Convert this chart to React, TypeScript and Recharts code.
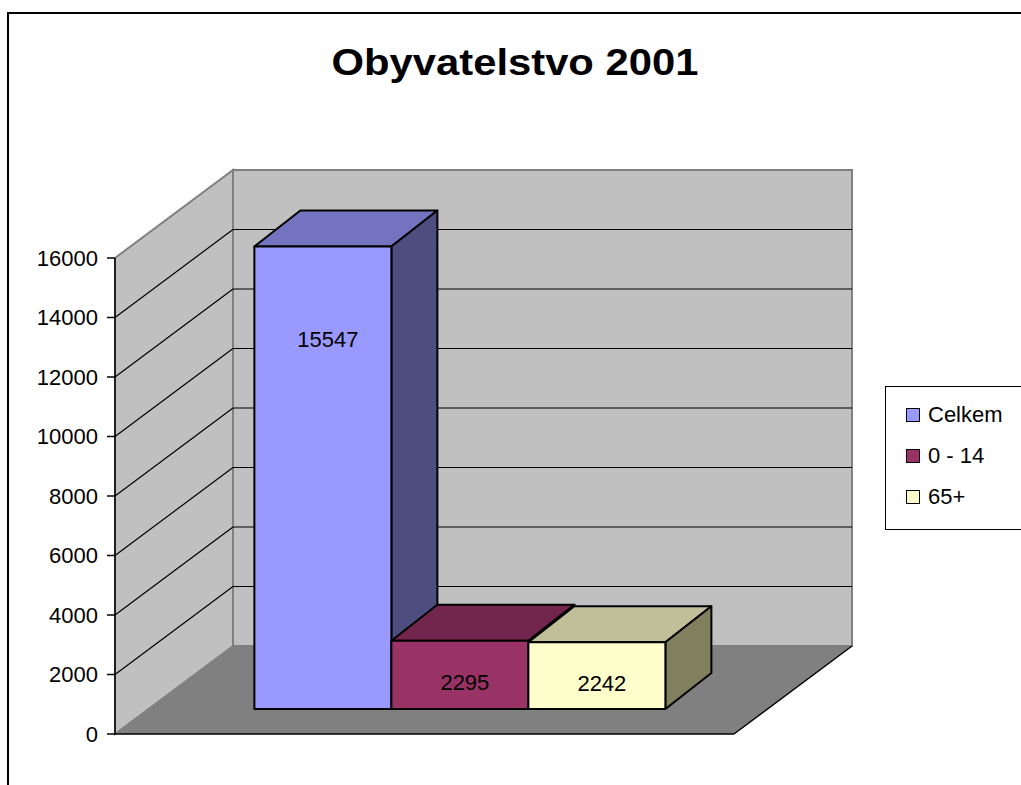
import { BarChart, Bar, XAxis, YAxis, CartesianGrid, LabelList } from "recharts"

const categories = ["2001"]
const seriesNames = ["Celkem", "0 - 14", "65+"]
const seriesValues = [[15547], [2295], [2242]]
const yTicks = [0, 2000, 4000, 6000, 8000, 10000, 12000, 14000, 16000]

const faceColors = ["#9999FF", "#993366", "#FFFFCC"]
const topColors = ["#7373BF", "#73264D", "#BFBF99"]
const sideColors = ["#4D4D80", "#4D1A33", "#80805F"]

const FONT = '"Liberation Sans", Arial, sans-serif'

// fake 3d: how deep the walls go, where the boxes sit and how deep they are
const WALL_DX = 118
const WALL_DY = 88
const BAR_SHIFT_X = 36
const BAR_SHIFT_Y = 25
const BAR_DX = 46
const BAR_DY = 36

const chartData = categories.map((name, i) => {
  const row: Record<string, string | number> = { name }
  seriesNames.forEach((s, j) => {
    row[s] = seriesValues[j][i]
  })
  return row
})

// drawn once, under the grid lines
function Walls(props: any) {
  const { x, y, width, height, index } = props
  if (index !== 0) return <g />
  const b = y + height
  return (
    <g>
      <polygon
        points={`${x},${b} ${x + WALL_DX},${b - WALL_DY} ${x + width + WALL_DX},${b - WALL_DY} ${x + width},${b}`}
        fill="#808080"
      />
      <polygon
        points={`${x},${y} ${x + WALL_DX},${y - WALL_DY} ${x + WALL_DX},${b - WALL_DY} ${x},${b}`}
        fill="#C0C0C0"
        stroke="#808080"
        strokeWidth={2}
      />
      <rect x={x + WALL_DX} y={y - WALL_DY} width={width} height={height} fill="#C0C0C0" stroke="#808080" strokeWidth={2} />
      <line x1={x} y1={b} x2={x + width} y2={b} stroke="#000" strokeWidth={1.5} />
      <line x1={x + width} y1={b} x2={x + width + WALL_DX} y2={b - WALL_DY} stroke="#000" strokeWidth={1.5} />
    </g>
  )
}

function GridLine(props: any) {
  const { x1, x2, y1, y, height } = props
  if (Math.abs(y1 - y) < 1 || Math.abs(y1 - (y + height)) < 1) return <g />
  return (
    <g stroke="#000" strokeWidth={1.2}>
      <line x1={x1} y1={y1} x2={x1 + WALL_DX} y2={y1 - WALL_DY} />
      <line x1={x1 + WALL_DX} y1={y1 - WALL_DY} x2={x2 + WALL_DX} y2={y1 - WALL_DY} />
    </g>
  )
}

function Box3D(props: any) {
  const { x, y, width, height, face, top, side } = props
  const fx = x + BAR_SHIFT_X
  const fy = y - BAR_SHIFT_Y
  const r = fx + width
  const b = fy + height
  return (
    <g stroke="#000" strokeWidth={2} strokeLinejoin="round">
      <polygon points={`${fx},${fy} ${fx + BAR_DX},${fy - BAR_DY} ${r + BAR_DX},${fy - BAR_DY} ${r},${fy}`} fill={top} />
      <polygon points={`${r},${fy} ${r + BAR_DX},${fy - BAR_DY} ${r + BAR_DX},${b - BAR_DY} ${r},${b}`} fill={side} />
      <rect x={fx} y={fy} width={width} height={height} fill={face} />
    </g>
  )
}

function ValueLabel(props: any) {
  const vb = props.viewBox ?? props
  const { x, y, width, height } = vb
  const cx = x + BAR_SHIFT_X + width / 2 + 5
  const cy = y - BAR_SHIFT_Y + 33 + height * 0.13
  return (
    <text x={cx} y={cy} textAnchor="middle" dominantBaseline="central" fontSize={22} fontFamily={FONT} fill="#000">
      {props.value}
    </text>
  )
}

export default function App() {
  return (
    <div
      style={{
        position: "absolute",
        left: 0,
        top: 0,
        width: 1021,
        height: 785,
        overflow: "hidden",
        background: "#fff",
        fontFamily: FONT,
      }}
    >
      <div style={{ position: "absolute", left: 7, top: 12, width: 1040, height: 800, border: "2px solid #000" }} />

      <div
        style={{
          position: "absolute",
          left: 315,
          top: 45,
          width: 400,
          textAlign: "center",
          fontSize: 36,
          fontWeight: "bold",
          lineHeight: 1,
          color: "#000",
          whiteSpace: "nowrap",
          transform: "scaleX(1.16)",
          transformOrigin: "50% 50%",
        }}
      >
        Obyvatelstvo 2001
      </div>

      <div style={{ position: "absolute", left: 0, top: 0 }}>
        <BarChart
          width={1021}
          height={785}
          data={chartData}
          margin={{ top: 258, right: 287, bottom: 51, left: 15 }}
          barCategoryGap="16.7%"
          barGap={0}
        >
          <CartesianGrid vertical={false} horizontal={Walls} />
          <CartesianGrid vertical={false} horizontal={GridLine} />
          <XAxis dataKey="name" hide />
          <YAxis
            width={100}
            domain={[0, 16000]}
            ticks={yTicks}
            interval={0}
            tickSize={8}
            tickMargin={9}
            tick={{ fill: "#000", fontSize: 22, fontFamily: FONT }}
            tickLine={{ stroke: "#000", strokeWidth: 1.5 }}
            axisLine={{ stroke: "#000", strokeWidth: 1.5 }}
          />
          {seriesNames.map((s, i) => (
            <Bar
              key={s}
              dataKey={s}
              fill={faceColors[i]}
              isAnimationActive={false}
              shape={(p: any) => <Box3D {...p} face={faceColors[i]} top={topColors[i]} side={sideColors[i]} />}
            >
              <LabelList dataKey={s} content={ValueLabel} />
            </Bar>
          ))}
        </BarChart>
      </div>

      <div
        style={{
          position: "absolute",
          left: 885,
          top: 386,
          width: 200,
          height: 144,
          border: "1.5px solid #000",
          boxSizing: "border-box",
          paddingTop: 7,
          background: "#fff",
        }}
      >
        {seriesNames.map((s, i) => (
          <div key={s} style={{ display: "flex", alignItems: "center", height: 41, paddingLeft: 20 }}>
            <span
              style={{
                width: 14,
                height: 14,
                boxSizing: "border-box",
                border: "1px solid #000",
                background: faceColors[i],
                marginRight: 8,
              }}
            />
            <span style={{ fontSize: 22, color: "#000", lineHeight: 1 }}>{s}</span>
          </div>
        ))}
      </div>
    </div>
  )
}
